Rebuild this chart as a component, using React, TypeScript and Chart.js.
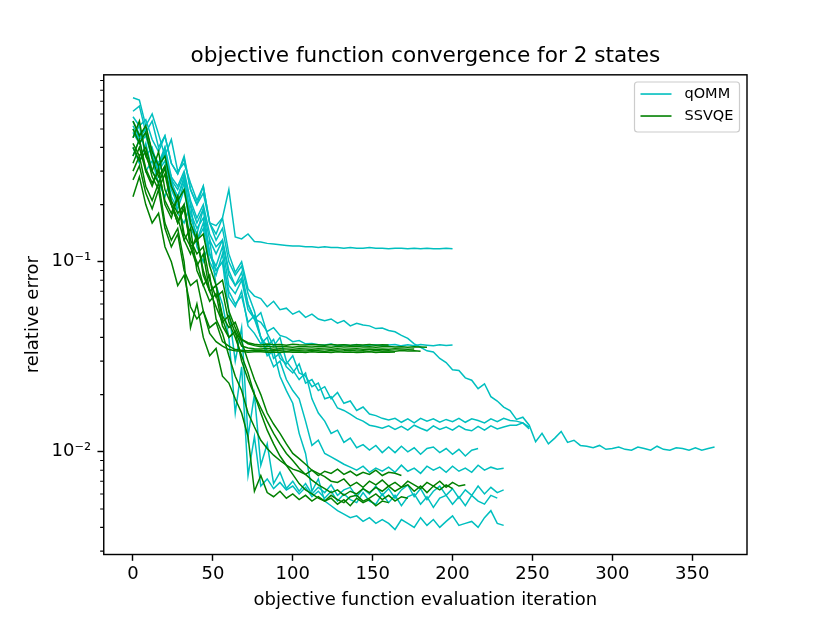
import React, { useEffect, useRef } from 'react';
import { Chart, registerables } from 'chart.js';

Chart.register(...registerables);

// one recorded value every STEP iterations
const STEP = 4;

const QOMM_1 = [
  0.73, 0.71, 0.52, 0.6, 0.47, 0.36, 0.44, 0.3, 0.33, 0.26,
  0.21, 0.25, 0.16, 0.155, 0.17, 0.24, 0.135, 0.132, 0.14, 0.128,
  0.127, 0.125, 0.124, 0.123, 0.122, 0.121, 0.121, 0.12, 0.12, 0.119,
  0.12, 0.119, 0.119, 0.118, 0.119, 0.118, 0.118, 0.119, 0.118, 0.118,
  0.117, 0.118, 0.118, 0.117, 0.118, 0.117, 0.118, 0.117, 0.117, 0.118, 0.117,
];
const QOMM_2 = [
  0.55, 0.47, 0.5, 0.38, 0.31, 0.4, 0.26, 0.22, 0.28, 0.17,
  0.14, 0.19, 0.11, 0.095, 0.12, 0.075, 0.068, 0.08, 0.056, 0.05,
  0.048, 0.043, 0.045, 0.041, 0.04, 0.038, 0.0385, 0.037, 0.0372, 0.0366,
  0.0365, 0.0369, 0.0361, 0.0366, 0.0362, 0.0367, 0.0361, 0.0365, 0.0366, 0.0361,
  0.0365, 0.0367, 0.0361, 0.0366, 0.0362, 0.0367, 0.0364, 0.0361, 0.0366, 0.0363, 0.0365,
];
const QOMM_3 = [
  0.62, 0.66, 0.48, 0.55, 0.4, 0.46, 0.33, 0.29, 0.36, 0.24,
  0.2, 0.25, 0.16, 0.14, 0.17, 0.11, 0.088, 0.1, 0.072, 0.066,
  0.064, 0.058, 0.062, 0.056, 0.057, 0.053, 0.055, 0.051, 0.053, 0.05,
  0.049, 0.05, 0.0475, 0.049, 0.046, 0.0475, 0.0465, 0.046, 0.0445, 0.0448,
  0.0435, 0.0428, 0.041, 0.0395, 0.037, 0.0355, 0.034, 0.0335, 0.031, 0.0295,
  0.027, 0.0268, 0.0245, 0.0238, 0.0215, 0.0228, 0.0195, 0.0185, 0.0172, 0.0165,
  0.0148, 0.0152, 0.0138, 0.0113, 0.0125, 0.011, 0.0118, 0.0128, 0.0112, 0.0115,
  0.0108, 0.0107, 0.0105, 0.0108, 0.0103, 0.0104, 0.0106, 0.0103, 0.0102, 0.0106,
  0.0104, 0.0102, 0.0107, 0.0103, 0.0102, 0.0105, 0.0104, 0.0102, 0.0105, 0.0102,
  0.0104, 0.0106,
];
const QOMM_4 = [
  0.45, 0.52, 0.36, 0.4, 0.3, 0.34, 0.24, 0.2, 0.26, 0.16,
  0.13, 0.15, 0.1, 0.085, 0.11, 0.065, 0.058, 0.07, 0.046, 0.042,
  0.037, 0.04, 0.031, 0.033, 0.028, 0.026, 0.029, 0.023, 0.024, 0.021,
  0.022, 0.019, 0.0205, 0.018, 0.0185, 0.0165, 0.0172, 0.0158, 0.0155, 0.015,
  0.0147, 0.015, 0.0143, 0.0149, 0.0142, 0.015, 0.0145, 0.0149, 0.0143, 0.0148,
  0.0144, 0.015, 0.0143, 0.0149, 0.0146, 0.0142, 0.0149, 0.0144, 0.015, 0.0146,
  0.0145, 0.0142, 0.0135,
];
const QOMM_5 = [
  0.4, 0.33, 0.42, 0.3, 0.26, 0.32, 0.22, 0.19, 0.24, 0.15,
  0.13, 0.16, 0.11, 0.09, 0.1, 0.07, 0.06, 0.066, 0.048, 0.052,
  0.04, 0.036, 0.039, 0.031, 0.029, 0.032, 0.026, 0.025, 0.022, 0.023,
  0.019, 0.0195, 0.017, 0.0165, 0.0158, 0.015, 0.0145, 0.0138, 0.0136, 0.0133,
  0.0137, 0.0131, 0.0136, 0.013, 0.0138, 0.0133, 0.0129, 0.0137, 0.0131, 0.0135,
  0.013, 0.0137, 0.0131, 0.0129, 0.0136, 0.013, 0.0137, 0.0132, 0.0135, 0.0138,
  0.0138, 0.0142, 0.0132,
];
const QOMM_6 = [
  0.5, 0.44, 0.48, 0.36, 0.31, 0.38, 0.27, 0.24, 0.29, 0.2,
  0.16, 0.19, 0.13, 0.11, 0.13, 0.085, 0.075, 0.088, 0.06, 0.05,
  0.054, 0.042, 0.036, 0.04, 0.03, 0.027, 0.024, 0.026, 0.019, 0.016,
  0.0145, 0.0125, 0.013, 0.0112, 0.0118, 0.0105, 0.0109, 0.0102, 0.0108, 0.0099,
  0.0106, 0.0099, 0.0107, 0.01, 0.0105, 0.0097, 0.0104, 0.0106, 0.0099, 0.0104,
  0.0097, 0.0103, 0.0095, 0.0102, 0.0104,
];
const QOMM_7 = [
  0.58, 0.52, 0.56, 0.44, 0.38, 0.46, 0.33, 0.29, 0.35, 0.24,
  0.2, 0.23, 0.16, 0.13, 0.15, 0.1, 0.085, 0.095, 0.068, 0.055,
  0.04, 0.034, 0.028, 0.03, 0.024, 0.021, 0.019, 0.0145, 0.0108, 0.0115,
  0.0098, 0.0094, 0.009, 0.0086, 0.0083, 0.008, 0.0084, 0.0078, 0.0082, 0.0079,
  0.0083, 0.0078, 0.0085, 0.0079, 0.0082, 0.0077, 0.0084, 0.008, 0.0083, 0.0078,
  0.0084, 0.0079, 0.0082, 0.0078, 0.0085, 0.008, 0.0083, 0.0081, 0.0082,
];
const QOMM_8 = [
  0.48, 0.42, 0.46, 0.35, 0.3, 0.37, 0.26, 0.22, 0.27, 0.18,
  0.15, 0.17, 0.11, 0.09, 0.1, 0.055, 0.03, 0.045, 0.012, 0.02,
  0.0085, 0.011, 0.0068, 0.0078, 0.0064, 0.007, 0.0062, 0.0068, 0.006, 0.0065,
  0.0061, 0.0067, 0.0059, 0.0063, 0.0065, 0.0058, 0.0064, 0.006, 0.0066, 0.0059,
  0.0064, 0.0057, 0.0063, 0.0067, 0.0058, 0.0064, 0.0056, 0.0062, 0.0066, 0.0059,
  0.0064, 0.0057, 0.0063, 0.0059, 0.0066, 0.006, 0.0065, 0.0061, 0.0063,
];
const QOMM_9 = [
  0.36, 0.44, 0.3, 0.34, 0.26, 0.22, 0.28, 0.18, 0.16, 0.2,
  0.12, 0.1, 0.13, 0.075, 0.06, 0.04, 0.016, 0.028, 0.0075, 0.012,
  0.0066, 0.0072, 0.0064, 0.0069, 0.0063, 0.0066, 0.006, 0.0065, 0.0058, 0.0062,
  0.0057, 0.0062, 0.0055, 0.006, 0.0056, 0.0054, 0.0061, 0.0055, 0.0053, 0.006,
  0.0054, 0.0059, 0.0052, 0.0058, 0.006, 0.0053, 0.0058, 0.0051, 0.0057, 0.0059,
  0.0053, 0.0058, 0.0052, 0.0059, 0.0055, 0.0053, 0.0059, 0.0057,
];
const QOMM_10 = [
  0.52, 0.45, 0.5, 0.38, 0.33, 0.4, 0.28, 0.25, 0.3, 0.21,
  0.17, 0.2, 0.14, 0.12, 0.13, 0.09, 0.075, 0.082, 0.06, 0.05,
  0.04, 0.032, 0.034, 0.025, 0.021, 0.018, 0.0125, 0.0098, 0.0062, 0.0072,
  0.0055, 0.0052, 0.0049, 0.0047, 0.0045, 0.0046, 0.0043, 0.0045, 0.0042, 0.0044,
  0.0042, 0.0039, 0.0044, 0.0042, 0.004, 0.0045, 0.0041, 0.0044, 0.004, 0.0043,
  0.0046, 0.0041, 0.0042, 0.0043, 0.004, 0.0045, 0.0049, 0.0042, 0.0041,
];

const SSVQE_1 = [
  0.45, 0.55, 0.36, 0.3, 0.38, 0.24, 0.2, 0.16, 0.2, 0.12,
  0.095, 0.11, 0.07, 0.058, 0.048, 0.052, 0.042, 0.039, 0.0375, 0.0368,
  0.0365, 0.0369, 0.0366, 0.0367, 0.0364, 0.0368, 0.0366, 0.0365, 0.0367, 0.0366,
  0.0364, 0.0367, 0.0365, 0.0366, 0.0364, 0.0366, 0.0365, 0.0367, 0.0364, 0.0366,
  0.0365,
];
const SSVQE_2 = [
  0.33, 0.4, 0.3, 0.25, 0.31, 0.2, 0.17, 0.22, 0.13, 0.11,
  0.14, 0.085, 0.07, 0.075, 0.052, 0.045, 0.048, 0.039, 0.037, 0.0362,
  0.0357, 0.0359, 0.0356, 0.0358, 0.0357, 0.0355, 0.0358, 0.0357, 0.0356, 0.0358,
  0.0357, 0.0355, 0.0358, 0.0356, 0.0357, 0.0358, 0.0356, 0.0357, 0.0355, 0.0357,
  0.0358, 0.0356, 0.0357, 0.0355, 0.0357, 0.0356, 0.0355,
];
const SSVQE_3 = [
  0.5, 0.42, 0.48, 0.35, 0.28, 0.32, 0.2, 0.17, 0.13, 0.15,
  0.09, 0.075, 0.062, 0.068, 0.046, 0.04, 0.043, 0.036, 0.0352, 0.0349,
  0.0348, 0.035, 0.0347, 0.0349, 0.0348, 0.0346, 0.0349, 0.0348, 0.0347, 0.0349,
  0.0348, 0.0346, 0.0349, 0.0347, 0.0348, 0.0349, 0.0347, 0.0348, 0.0346, 0.0348,
  0.0347, 0.0349, 0.0348, 0.0347, 0.0348,
];
const SSVQE_4 = [
  0.27, 0.32, 0.23, 0.19, 0.24, 0.15, 0.12, 0.14, 0.09, 0.075,
  0.08, 0.055, 0.045, 0.048, 0.038, 0.036, 0.0345, 0.0342, 0.034, 0.0343,
  0.0341, 0.0339, 0.0342, 0.034, 0.0338, 0.0341, 0.034, 0.0339, 0.0341, 0.034,
  0.0338, 0.0341, 0.0339, 0.034, 0.0342, 0.0339, 0.034, 0.0338, 0.0341, 0.0339,
  0.034, 0.0338, 0.0341, 0.0339, 0.034, 0.0338,
];
const SSVQE_5 = [
  0.22, 0.28, 0.2, 0.16, 0.18, 0.12, 0.1, 0.075, 0.085, 0.058,
  0.05, 0.055, 0.042, 0.038, 0.036, 0.0345, 0.034, 0.0338, 0.0334, 0.0336,
  0.0336, 0.0334, 0.0335, 0.0333, 0.0336, 0.0334, 0.0335, 0.0333, 0.0336, 0.0334,
  0.0335, 0.0333, 0.0336, 0.0334, 0.0335, 0.0333, 0.0334, 0.0336, 0.0333, 0.0335,
  0.0334, 0.0335,
];
const SSVQE_6 = [
  0.4, 0.34, 0.38, 0.28, 0.24, 0.29, 0.2, 0.16, 0.19, 0.12,
  0.1, 0.075, 0.085, 0.05, 0.042, 0.032, 0.025, 0.021, 0.016, 0.0135,
  0.0115, 0.0104, 0.0096, 0.009, 0.0085, 0.0081, 0.0079, 0.0076, 0.008, 0.0075,
  0.0079, 0.0077, 0.0081, 0.0076, 0.0079, 0.0075, 0.0078, 0.0076, 0.008, 0.0075,
  0.0078, 0.0077, 0.0075,
];
const SSVQE_7 = [
  0.55, 0.46, 0.52, 0.38, 0.32, 0.36, 0.25, 0.21, 0.24, 0.16,
  0.13, 0.14, 0.095, 0.075, 0.08, 0.055, 0.045, 0.038, 0.03, 0.024,
  0.02, 0.016, 0.014, 0.0125, 0.011, 0.0098, 0.0092, 0.0086, 0.008, 0.0077,
  0.0074, 0.007, 0.0069, 0.0072, 0.0066, 0.0069, 0.0065, 0.007, 0.0067, 0.0071,
  0.0066, 0.0069, 0.0065, 0.007, 0.0067, 0.0064, 0.0069, 0.0066, 0.007, 0.0065,
  0.0069, 0.0066, 0.0067,
];
const SSVQE_8 = [
  0.36, 0.44, 0.31, 0.26, 0.3, 0.21, 0.18, 0.22, 0.14, 0.12,
  0.13, 0.09, 0.07, 0.075, 0.05, 0.04, 0.043, 0.03, 0.024, 0.02,
  0.017, 0.0145, 0.0125, 0.011, 0.0098, 0.009, 0.0082, 0.0076, 0.0071, 0.0067,
  0.0064, 0.0061, 0.0063, 0.0059, 0.0062, 0.006, 0.0064, 0.0061, 0.0065, 0.0062,
  0.0066, 0.0062, 0.0065, 0.0067, 0.0062, 0.0066, 0.0061, 0.0066, 0.0063, 0.0067,
  0.0064,
];
const SSVQE_9 = [
  0.3, 0.36, 0.25, 0.21, 0.26, 0.16, 0.13, 0.15, 0.1, 0.045,
  0.06, 0.04, 0.032, 0.035, 0.025, 0.023, 0.019, 0.016, 0.012, 0.0062,
  0.0075, 0.0061, 0.0058, 0.0062, 0.0057, 0.006, 0.0056, 0.0059, 0.0055, 0.0058,
  0.0055, 0.0059, 0.0056, 0.0054, 0.0058, 0.0059, 0.0055, 0.0057, 0.006, 0.0056,
  0.0059, 0.0055, 0.0058, 0.0057,
];
const SSVQE_10 = [
  0.42, 0.36, 0.4, 0.3, 0.26, 0.31, 0.21, 0.18, 0.2, 0.13,
  0.11, 0.12, 0.08, 0.065, 0.07, 0.048, 0.04, 0.032, 0.026, 0.02,
  0.016, 0.013, 0.011, 0.0095, 0.0085, 0.0076, 0.0068, 0.0063, 0.006, 0.0057,
  0.0055, 0.0057, 0.0053, 0.0056, 0.0052, 0.0057, 0.0054, 0.0056, 0.0052, 0.0055,
  0.0054,
];

const QOMM_RUNS = [QOMM_1, QOMM_2, QOMM_3, QOMM_4, QOMM_5, QOMM_6, QOMM_7, QOMM_8, QOMM_9, QOMM_10];
const SSVQE_RUNS = [SSVQE_1, SSVQE_2, SSVQE_3, SSVQE_4, SSVQE_5, SSVQE_6, SSVQE_7, SSVQE_8, SSVQE_9, SSVQE_10];

const X_TICKS = [0, 50, 100, 150, 200, 250, 300, 350];
const Y_MAJOR = [0.01, 0.1];
const Y_MAJOR_LABELS = ['10⁻²', '10⁻¹'];
const Y_MINOR = [
  0.003, 0.004, 0.005, 0.006, 0.007, 0.008, 0.009,
  0.02, 0.03, 0.04, 0.05, 0.06, 0.07, 0.08, 0.09,
  0.2, 0.3, 0.4, 0.5, 0.6, 0.7, 0.8, 0.9,
];

const QOMM_COLOR = '#00bfbf';
const SSVQE_COLOR = '#008000';
const FONT = 'DejaVu Sans';

const toPoints = (run: number[]) => run.map((y, i) => ({ x: i * STEP, y }));

// matplotlib-like frame, minor ticks and legend
const mplPlugin = {
  id: 'mplExtras',
  afterDraw(chart: Chart) {
    const { ctx, chartArea: a } = chart;
    const yScale = chart.scales.y;
    ctx.save();
    ctx.strokeStyle = '#000';
    ctx.lineWidth = 1.1;
    ctx.beginPath();
    Y_MINOR.forEach((v) => {
      const py = yScale.getPixelForValue(v);
      ctx.moveTo(a.left - 3.6, py);
      ctx.lineTo(a.left, py);
    });
    ctx.stroke();

    ctx.lineWidth = 1.44;
    ctx.strokeRect(a.left, a.top, a.right - a.left, a.bottom - a.top);

    // legend box, upper right
    const bw = 105;
    const bh = 50;
    const bx = a.right - 7.5 - bw;
    const by = a.top + 7.2;
    ctx.beginPath();
    ctx.roundRect(bx, by, bw, bh, 3);
    ctx.fillStyle = 'rgba(255,255,255,0.8)';
    ctx.fill();
    ctx.strokeStyle = '#cccccc';
    ctx.lineWidth = 1.2;
    ctx.stroke();

    const rows = [
      { label: 'qOMM', color: QOMM_COLOR },
      { label: 'SSVQE', color: SSVQE_COLOR },
    ];
    ctx.font = `14.5px "${FONT}"`;
    ctx.textBaseline = 'middle';
    ctx.textAlign = 'left';
    rows.forEach((r, i) => {
      const ry = by + 12 + i * 22;
      ctx.strokeStyle = r.color;
      ctx.lineWidth = 1.6;
      ctx.beginPath();
      ctx.moveTo(bx + 6, ry);
      ctx.lineTo(bx + 37, ry);
      ctx.stroke();
      ctx.fillStyle = '#000';
      ctx.fillText(r.label, bx + 50, ry);
    });
    ctx.restore();
  },
};

const App: React.FC = () => {
  const canvasRef = useRef<HTMLCanvasElement>(null);
  const chartRef = useRef<Chart | null>(null);

  useEffect(() => {
    if (!canvasRef.current) return;
    if (chartRef.current) {
      chartRef.current.destroy();
    }
    const ctx = canvasRef.current.getContext('2d');
    if (!ctx) return;

    const runSets = (runs: number[][], color: string, label: string) =>
      runs.map((run, i) => ({
        label: i === 0 ? label : `${label} ${i + 1}`,
        data: toPoints(run),
        borderColor: color,
        backgroundColor: color,
        borderWidth: 1.5,
        pointRadius: 0,
        fill: false,
        tension: 0,
      }));

    chartRef.current = new Chart(ctx, {
      type: 'line',
      data: {
        // first dataset is drawn on top: SSVQE over qOMM
        datasets: [...runSets(SSVQE_RUNS, SSVQE_COLOR, 'SSVQE'), ...runSets(QOMM_RUNS, QOMM_COLOR, 'qOMM')],
      },
      options: {
        responsive: true,
        maintainAspectRatio: false,
        animation: false,
        layout: { padding: { left: 0, right: 83, top: 0, bottom: 0 } },
        plugins: {
          legend: { display: false },
          tooltip: { enabled: false },
          title: {
            display: true,
            fullSize: false,
            text: 'objective function convergence for 2 states',
            color: '#000',
            font: { family: FONT, size: 21.6, weight: 'normal', lineHeight: 1.2 },
            padding: { top: 43.5, bottom: 5.4 },
          },
        },
        scales: {
          x: {
            type: 'linear',
            min: -18.3,
            max: 384.3,
            afterBuildTicks: (s) => {
              s.ticks = X_TICKS.map((value) => ({ value }));
            },
            afterFit: (s) => {
              s.height = 68.5;
            },
            grid: { display: true, drawOnChartArea: false, drawTicks: true, tickLength: 6.3, tickWidth: 1.44, tickColor: '#000' },
            border: { display: false },
            ticks: {
              color: '#000',
              font: { family: FONT, size: 18 },
              padding: 3,
              autoSkip: false,
              maxRotation: 0,
              callback: (v) => String(v),
            },
            title: {
              display: true,
              text: 'objective function evaluation iteration',
              color: '#000',
              font: { family: FONT, size: 18 },
              padding: { top: 0, bottom: 12.2 },
            },
          },
          y: {
            type: 'logarithmic',
            min: 0.00288,
            max: 0.964,
            afterBuildTicks: (s) => {
              s.ticks = Y_MAJOR.map((value) => ({ value }));
            },
            afterFit: (s) => {
              s.width = 103.75;
            },
            grid: { display: true, drawOnChartArea: false, drawTicks: true, tickLength: 6.3, tickWidth: 1.44, tickColor: '#000' },
            border: { display: false },
            ticks: {
              color: '#000',
              font: { family: FONT, size: 18 },
              padding: 6.3,
              autoSkip: false,
              callback: (_v, i) => Y_MAJOR_LABELS[i],
            },
            title: {
              display: true,
              text: 'relative error',
              color: '#000',
              font: { family: FONT, size: 18 },
              padding: { top: 22.5, bottom: 0 },
            },
          },
        },
      },
      plugins: [mplPlugin],
    });

    return () => {
      chartRef.current?.destroy();
      chartRef.current = null;
    };
  }, []);

  return (
    <div style={{ position: 'absolute', left: 0, top: 0, width: 830, height: 623, background: '#fff' }}>
      <canvas ref={canvasRef} />
    </div>
  );
};

export default App;
